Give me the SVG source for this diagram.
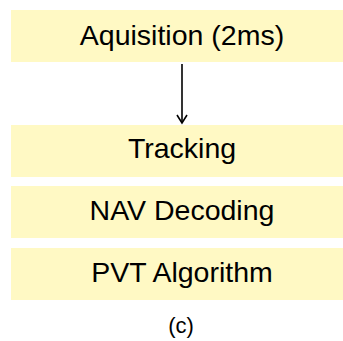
<svg xmlns="http://www.w3.org/2000/svg" width="343" height="341" viewBox="0 0 343 341">
  <style>
    .box { fill: #fff9c4; }
    .lbl { font-family: "Liberation Sans", Arial, sans-serif; font-size: 28.5px; fill: #000; text-anchor: middle; }
    .cap { font-family: "Liberation Sans", Arial, sans-serif; font-size: 22px; fill: #000; text-anchor: middle; }
    .edge { stroke: #000; stroke-width: 1.6; fill: none; }
  </style>
  <rect width="343" height="341" fill="#fff"/>
  <g id="acquisition">
    <rect class="box" x="11" y="10" width="332" height="52"/>
    <text class="lbl" x="182" y="45">Aquisition (2ms)</text>
  </g>
  <g id="tracking">
    <rect class="box" x="11" y="125" width="332" height="52"/>
    <text class="lbl" x="182" y="158">Tracking</text>
  </g>
  <g id="nav-decoding">
    <rect class="box" x="11" y="186" width="332" height="52"/>
    <text class="lbl" x="182" y="220">NAV Decoding</text>
  </g>
  <g id="pvt-algorithm">
    <rect class="box" x="11" y="248" width="332" height="52"/>
    <text class="lbl" x="182" y="282">PVT Algorithm</text>
  </g>
  <g id="connectors">
    <line class="edge" x1="182" y1="64" x2="182" y2="123"/>
    <polyline class="edge" points="177,115 182,123 187,115"/>
  </g>
  <text class="cap" x="181" y="333">(c)</text>
</svg>
